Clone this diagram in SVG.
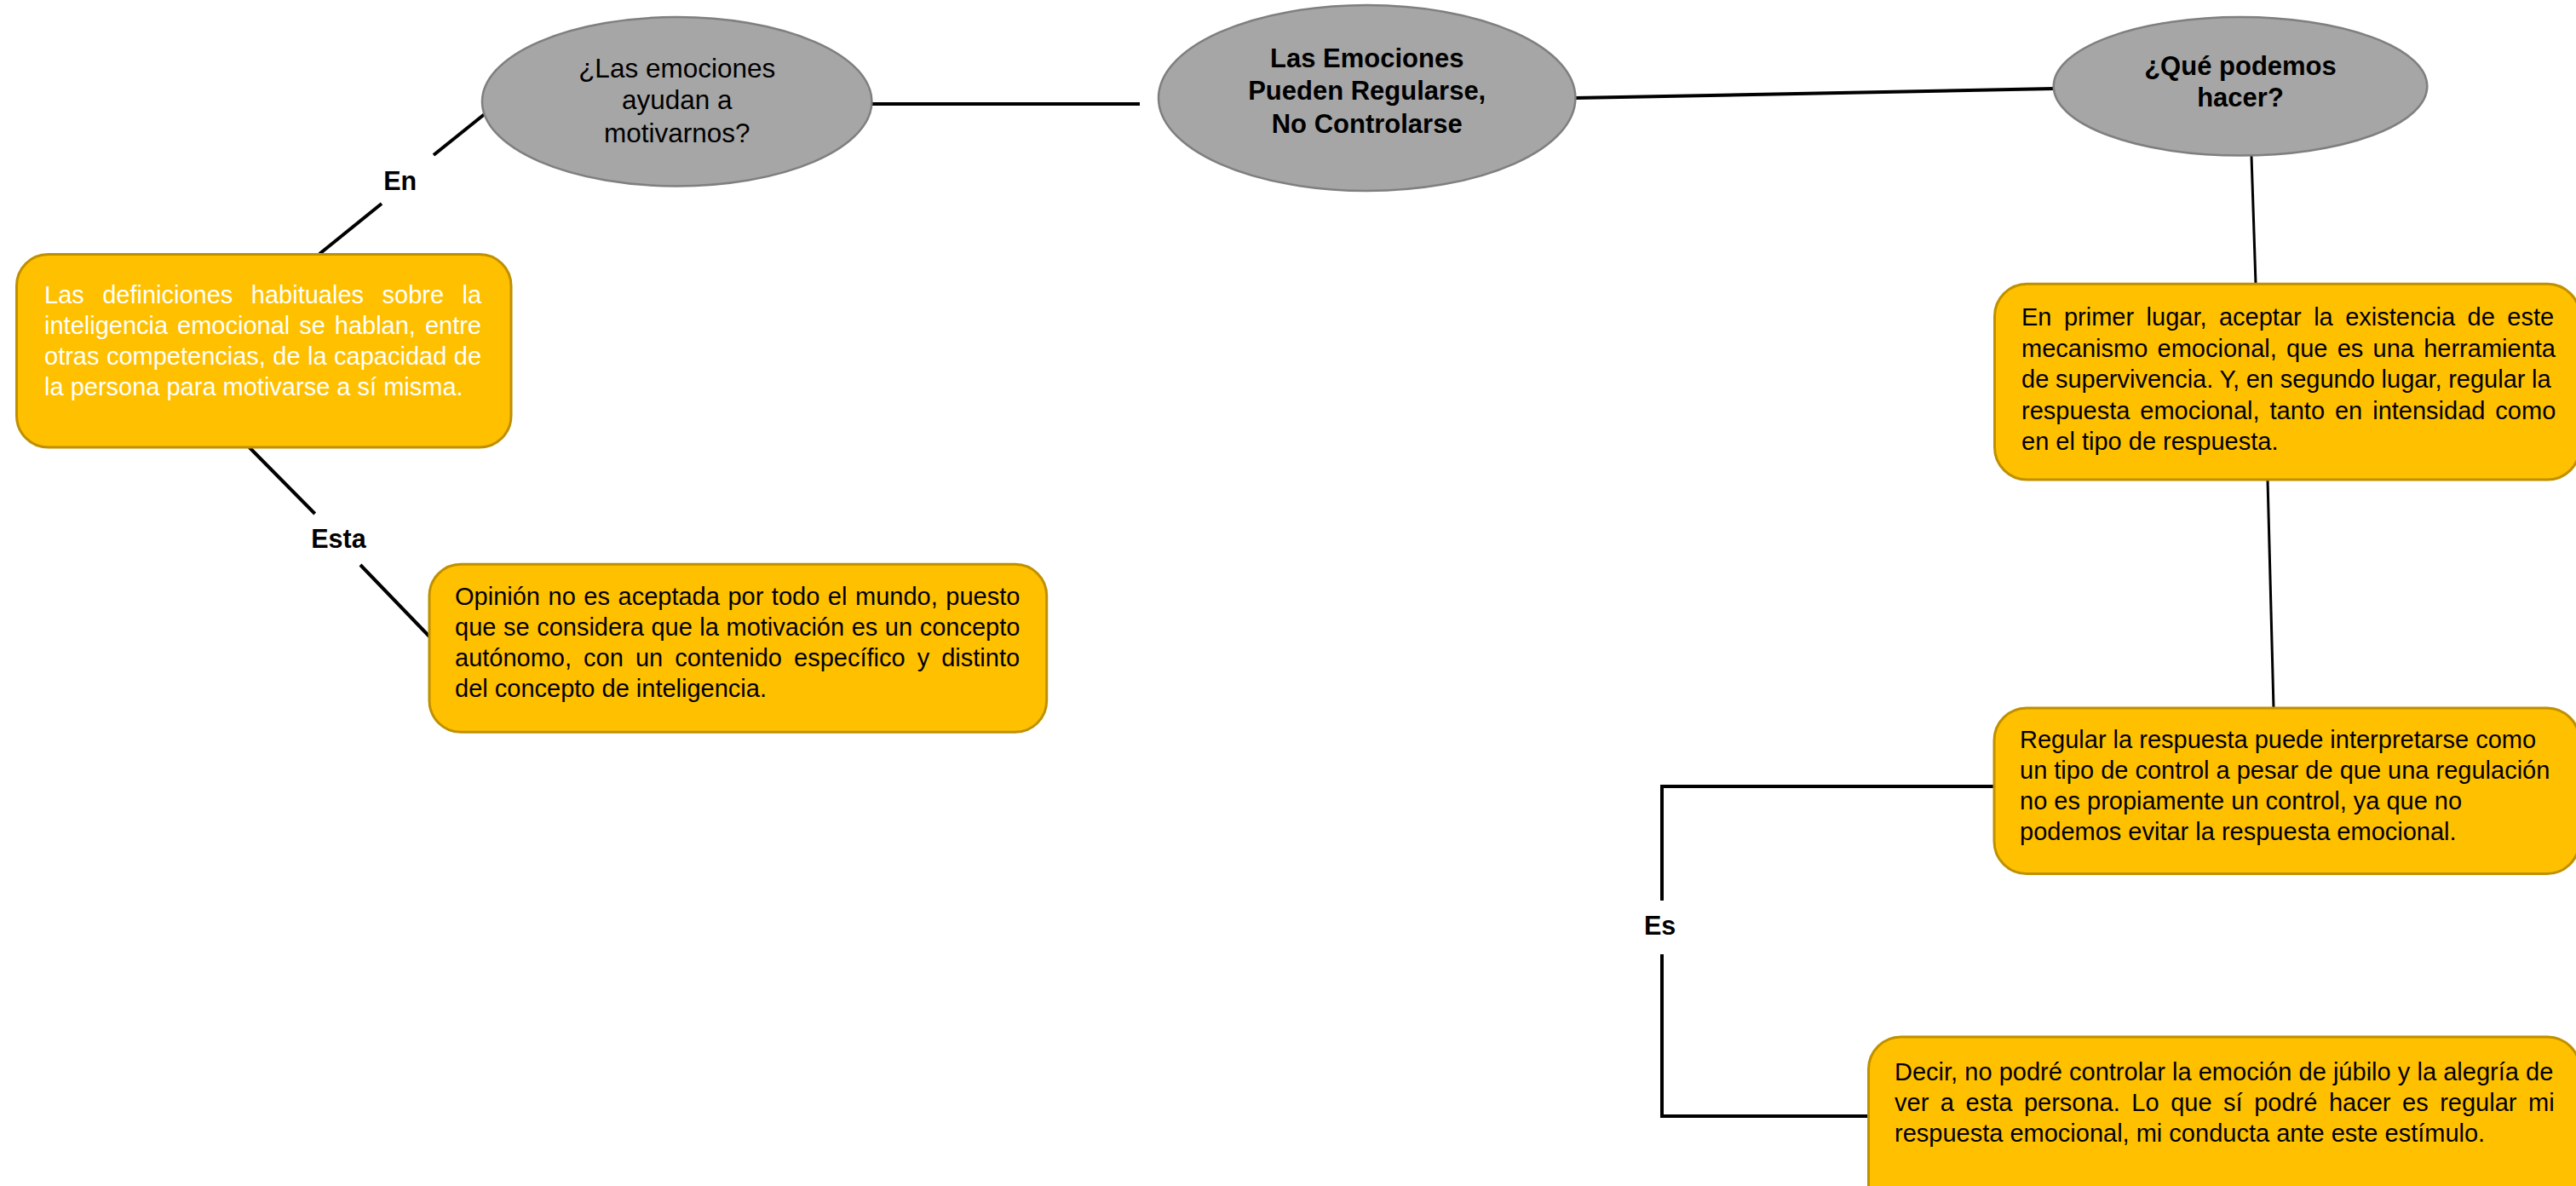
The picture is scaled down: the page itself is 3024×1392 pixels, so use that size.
<svg xmlns="http://www.w3.org/2000/svg" width="3024" height="1392" viewBox="0 0 3024 1392">
<style>
.bg{fill:#FFFFFF}
.ell{fill:#A6A6A6;stroke:#7F7F7F;stroke-width:2.5}
.box{fill:#FFC000;stroke:#BF9000;stroke-width:3}
.ln{stroke:#000000;stroke-width:4;fill:none}
.lnt{stroke:#000000;stroke-width:3;fill:none}
.t{font-family:"Liberation Sans",Arial,sans-serif;font-size:29px;fill:#000000}
.tw{font-family:"Liberation Sans",Arial,sans-serif;font-size:29px;fill:#FFFFFF}
.et{font-family:"Liberation Sans",Arial,sans-serif;font-size:31.5px;fill:#000000;text-anchor:middle}
.eb{font-family:"Liberation Sans",Arial,sans-serif;font-size:31px;font-weight:bold;fill:#000000;text-anchor:middle}
.lbl{font-family:"Liberation Sans",Arial,sans-serif;font-size:30.5px;font-weight:bold;fill:#000000;text-anchor:middle}
</style>
<rect class="bg" x="0" y="0" width="3024" height="1392"/>

<g id="connectors">
  <line class="ln" x1="1023" y1="122" x2="1338" y2="122"/>
  <line class="ln" x1="1849" y1="115" x2="2411" y2="104"/>
  <line class="lnt" x1="2643" y1="183" x2="2648" y2="333"/>
  <line class="lnt" x1="2662" y1="563" x2="2669" y2="831"/>
  <line class="ln" x1="570" y1="133" x2="509" y2="182"/>
  <line class="ln" x1="448" y1="239" x2="375" y2="298"/>
  <line class="ln" x1="292.6" y1="525" x2="369.7" y2="603"/>
  <line class="ln" x1="423" y1="663" x2="504" y2="747"/>
  <polyline class="ln" points="2341,923 1951,923 1951,1057"/>
  <polyline class="ln" points="1951,1120 1951,1310 2194,1310"/>
  <text class="lbl" x="469.7" y="222.7">En</text>
  <text class="lbl" x="397.4" y="643">Esta</text>
  <text class="lbl" x="1948.7" y="1096.7">Es</text>
</g>

<g id="node-motivarnos">
  <ellipse class="ell" cx="794.7" cy="119.2" rx="228.7" ry="99.2"/>
  <text class="et" x="794.7" y="90.5">¿Las emociones</text>
  <text class="et" x="794.7" y="128.3">ayudan a</text>
  <text class="et" x="794.7" y="166.8">motivarnos?</text>
</g>

<g id="node-central">
  <ellipse class="ell" cx="1604.7" cy="115" rx="244.7" ry="109"/>
  <text class="eb" x="1604.7" y="79">Las Emociones</text>
  <text class="eb" x="1604.7" y="117">Pueden Regularse,</text>
  <text class="eb" x="1604.7" y="155.5">No Controlarse</text>
</g>

<g id="node-que-podemos">
  <ellipse class="ell" cx="2630" cy="101.3" rx="219.3" ry="81.3"/>
  <text class="eb" x="2630" y="88">¿Qué podemos</text>
  <text class="eb" x="2630" y="124.5">hacer?</text>
</g>

<g id="node-definiciones">
  <rect class="box" x="19.5" y="298.5" width="580.5" height="226.5" rx="37" ry="37"/>
  <text class="tw" x="52" y="355.7" word-spacing="13.4">Las definiciones habituales sobre la</text>
  <text class="tw" x="52" y="391.7" word-spacing="2.9">inteligencia emocional se hablan, entre</text>
  <text class="tw" x="52" y="427.7" word-spacing="0.4">otras competencias, de la capacidad de</text>
  <text class="tw" x="52" y="464">la persona para motivarse a sí misma.</text>
</g>

<g id="node-opinion">
  <rect class="box" x="504" y="662.3" width="724.7" height="197" rx="37" ry="37"/>
  <text class="t" x="534" y="710" word-spacing="1.5">Opinión no es aceptada por todo el mundo, puesto</text>
  <text class="t" x="534" y="746" word-spacing="0.5">que se considera que la motivación es un concepto</text>
  <text class="t" x="534" y="782.3" word-spacing="6">autónomo, con un contenido específico y distinto</text>
  <text class="t" x="534" y="818.3">del concepto de inteligencia.</text>
</g>

<g id="node-primer-lugar">
  <rect class="box" x="2341.5" y="333.3" width="687" height="229.7" rx="38" ry="38"/>
  <text class="t" x="2373" y="382" word-spacing="6.4">En primer lugar, aceptar la existencia de este</text>
  <text class="t" x="2373" y="418.5" word-spacing="3.2">mecanismo emocional, que es una herramienta</text>
  <text class="t" x="2373" y="455" word-spacing="-0.4">de supervivencia. Y, en segundo lugar, regular la</text>
  <text class="t" x="2373" y="491.5" word-spacing="3.9">respuesta emocional, tanto en intensidad como</text>
  <text class="t" x="2373" y="528">en el tipo de respuesta.</text>
</g>

<g id="node-regular">
  <rect class="box" x="2341" y="831" width="687" height="194.5" rx="38" ry="38"/>
  <text class="t" x="2371" y="878">Regular la respuesta puede interpretarse como</text>
  <text class="t" x="2371" y="914">un tipo de control a pesar de que una regulación</text>
  <text class="t" x="2371" y="950">no es propiamente un control, ya que no</text>
  <text class="t" x="2371" y="986">podemos evitar la respuesta emocional.</text>
</g>

<g id="node-decir">
  <rect class="box" x="2193.5" y="1217" width="835" height="240" rx="38" ry="38"/>
  <text class="t" x="2224" y="1268" word-spacing="0.1">Decir, no podré controlar la emoción de júbilo y la alegría de</text>
  <text class="t" x="2224" y="1304" word-spacing="5.5">ver a esta persona. Lo que sí podré hacer es regular mi</text>
  <text class="t" x="2224" y="1340">respuesta emocional, mi conducta ante este estímulo.</text>
</g>
</svg>
